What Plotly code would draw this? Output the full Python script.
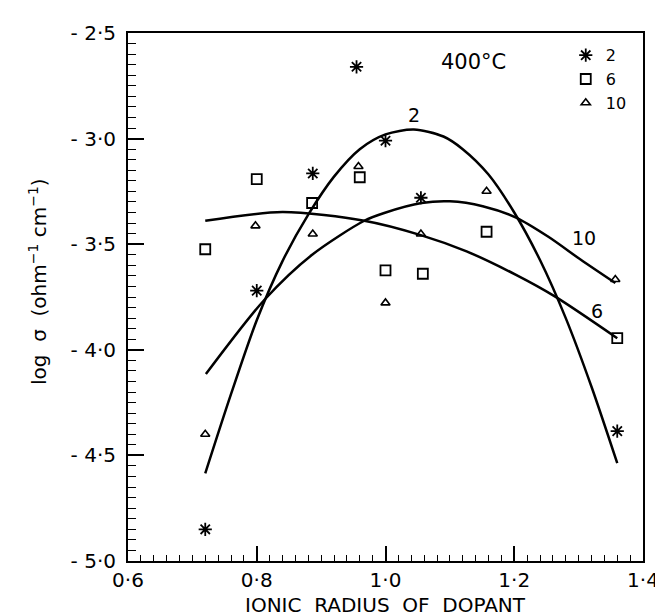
import plotly.graph_objects as go

# ---- data ----
x2 = [0.72, 0.80, 0.887, 0.955, 1.0, 1.055, 1.36]
y2 = [-4.85, -3.72, -3.165, -2.66, -3.01, -3.28, -4.385]

x6 = [0.72, 0.80, 0.886, 0.96, 1.0, 1.058, 1.157, 1.36]
y6 = [-3.524, -3.192, -3.305, -3.183, -3.624, -3.64, -3.441, -3.945]

x10 = [0.72, 0.798, 0.887, 0.958, 1.0, 1.055, 1.157, 1.357]
y10 = [-4.40, -3.413, -3.452, -3.132, -3.778, -3.452, -3.249, -3.667]

# fitted curves
cx2 = [0.72, 0.76, 0.80, 0.84, 0.88, 0.92, 0.96, 1.00, 1.044, 1.09, 1.12, 1.16, 1.20, 1.24, 1.28, 1.32, 1.36]
cy2 = [-4.585, -4.21, -3.86, -3.58, -3.36, -3.18, -3.05, -2.98, -2.957, -2.99, -3.05, -3.17, -3.35, -3.575, -3.85, -4.175, -4.537]

cx6 = [0.72, 0.84, 0.967, 1.056, 1.126, 1.202, 1.263, 1.36]
cy6 = [-3.389, -3.348, -3.389, -3.458, -3.534, -3.644, -3.747, -3.945]

cx10 = [0.721, 0.812, 0.886, 0.967, 0.998, 1.056, 1.10, 1.151, 1.202, 1.253, 1.304, 1.357]
cy10 = [-4.115, -3.763, -3.55, -3.389, -3.352, -3.305, -3.297, -3.32, -3.373, -3.465, -3.575, -3.684]

series_names = ["2", "6", "10"]

x_ticks = [0.6, 0.8, 1.0, 1.2, 1.4]
x_ticktext = ["0·6", "0·8", "1·0", "1·2", "1·4"]
y_ticks = [-2.5, -3.0, -3.5, -4.0, -4.5, -5.0]
y_ticktext = ["- 2·5", "- 3·0", "- 3·5", "- 4·0", "- 4·5", "- 5·0"]

curve_labels = [("2", 1.044, -2.889), ("10", 1.309, -3.47), ("6", 1.329, -3.818)]
temp_label = ("400°C", 1.137, -2.635)

FONT = "DejaVu Sans"
BLACK = "black"

fig = go.Figure()

for cx, cy in [(cx2, cy2), (cx6, cy6), (cx10, cy10)]:
    fig.add_trace(go.Scatter(x=cx, y=cy, mode="lines", showlegend=False,
                             line=dict(color=BLACK, width=2.5, shape="spline", smoothing=0.8),
                             hoverinfo="skip"))

fig.add_trace(go.Scatter(x=x2, y=y2, mode="markers", name=series_names[0],
                         marker=dict(symbol="asterisk-open", size=11, color=BLACK,
                                     line=dict(color=BLACK, width=1.8))))
fig.add_trace(go.Scatter(x=x6, y=y6, mode="markers", name=series_names[1],
                         marker=dict(symbol="square-open", size=10, color=BLACK,
                                     line=dict(color=BLACK, width=1.8))))
fig.add_trace(go.Scatter(x=x10, y=y10, mode="markers", name=series_names[2],
                         marker=dict(symbol="triangle-up-open", size=8, color=BLACK,
                                     line=dict(color=BLACK, width=1.6))))

for txt, lx, ly in curve_labels:
    fig.add_annotation(x=lx, y=ly, text=txt, showarrow=False,
                       font=dict(family=FONT, size=19, color=BLACK))
fig.add_annotation(x=temp_label[1], y=temp_label[2], text=temp_label[0], showarrow=False,
                   font=dict(family=FONT, size=21, color=BLACK))

# axis titles
fig.add_annotation(xref="paper", yref="paper", x=0.5, y=0, yshift=-44,
                   xanchor="center", yanchor="middle",
                   text="IONIC  RADIUS  OF  DOPANT", showarrow=False,
                   font=dict(family=FONT, size=20, color=BLACK))
fig.add_annotation(xref="paper", yref="paper", x=-0.176, y=0.529, textangle=-90,
                   xanchor="center", yanchor="middle",
                   text="log  σ  (ohm<sup>−1</sup> cm<sup>−1</sup>)", showarrow=False,
                   font=dict(family=FONT, size=20, color=BLACK))

fig.update_xaxes(range=[0.6, 1.4], tickmode="array", tickvals=x_ticks, ticktext=x_ticktext,
                 ticks="inside", ticklen=15, tickwidth=1.5, tickcolor=BLACK,
                 showline=True, linecolor=BLACK, linewidth=2, mirror=True,
                 showgrid=False, zeroline=False,
                 tickfont=dict(family=FONT, size=20, color=BLACK),
                 minor=dict(tickmode="linear", tick0=0.6, dtick=0.02, ticks="inside",
                            ticklen=6, tickwidth=1.3, tickcolor=BLACK, showgrid=False))
fig.update_yaxes(range=[-5.0, -2.5], tickmode="array", tickvals=y_ticks, ticktext=y_ticktext,
                 ticks="inside", ticklen=16, tickwidth=1.5, tickcolor=BLACK,
                 showline=True, linecolor=BLACK, linewidth=2, mirror=True,
                 showgrid=False, zeroline=False, ticklabelstandoff=6,
                 tickfont=dict(family=FONT, size=20, color=BLACK),
                 minor=dict(tickmode="linear", tick0=-5.0, dtick=0.05, ticks="inside",
                            ticklen=8, tickwidth=1.3, tickcolor=BLACK, showgrid=False))

fig.update_layout(width=663, height=616,
                  margin=dict(l=120, r=20, t=25, b=63),
                  plot_bgcolor="white", paper_bgcolor="white",
                  font=dict(family=FONT, color=BLACK),
                  legend=dict(x=0.85, y=0.99, xanchor="left", yanchor="top",
                              bgcolor="rgba(0,0,0,0)", borderwidth=0,
                              font=dict(family=FONT, size=16, color=BLACK),
                              itemwidth=30, tracegroupgap=0),
                  showlegend=True)

fig.write_html("out.html")
